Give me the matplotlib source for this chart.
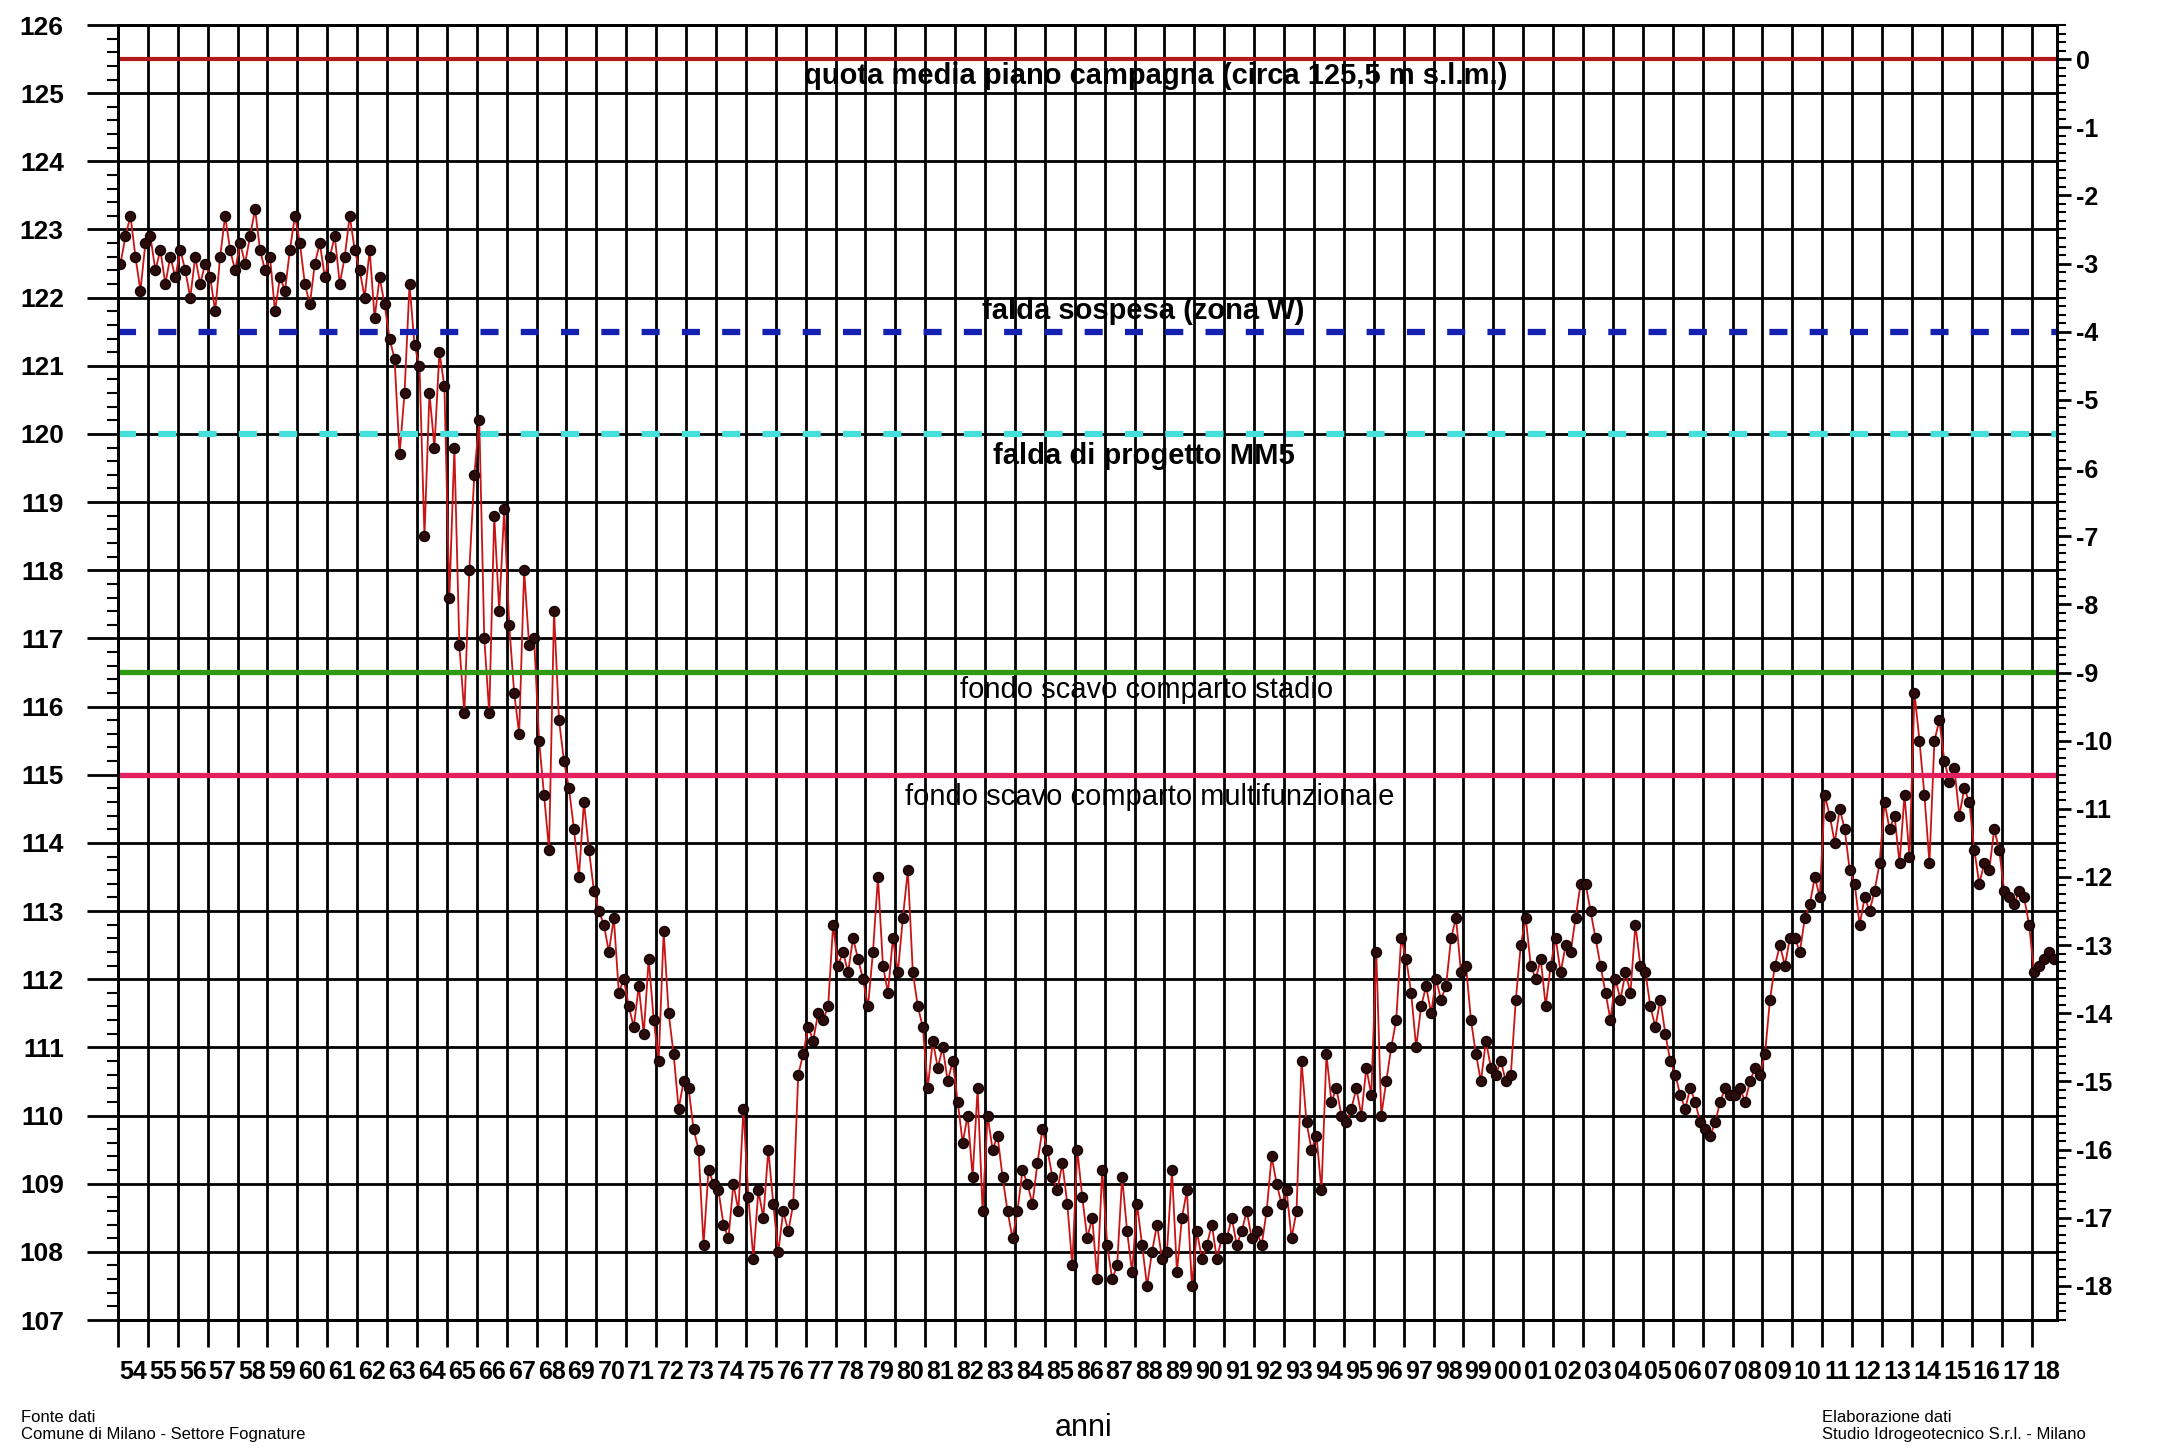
import matplotlib
matplotlib.use('Agg')
import matplotlib.pyplot as plt
from matplotlib.ticker import FixedLocator, MultipleLocator, NullFormatter

plt.rcParams['lines.scale_dashes'] = False
plt.rcParams['font.family'] = ['Liberation Sans Narrow', 'Liberation Sans', 'DejaVu Sans']

# anni di misura (asse x)
years = list(range(1954, 2019))
year_labels = [f'{y % 100:02d}' for y in years]

# quota di falda, 6 letture per anno (m s.l.m.)
levels = [
    [122.5, 122.9, 123.2, 122.6, 122.1, 122.8],  # 1954
    [122.9, 122.4, 122.7, 122.2, 122.6, 122.3],
    [122.7, 122.4, 122.0, 122.6, 122.2, 122.5],
    [122.3, 121.8, 122.6, 123.2, 122.7, 122.4],
    [122.8, 122.5, 122.9, 123.3, 122.7, 122.4],
    [122.6, 121.8, 122.3, 122.1, 122.7, 123.2],
    [122.8, 122.2, 121.9, 122.5, 122.8, 122.3],  # 1960
    [122.6, 122.9, 122.2, 122.6, 123.2, 122.7],
    [122.4, 122.0, 122.7, 121.7, 122.3, 121.9],
    [121.4, 121.1, 119.7, 120.6, 122.2, 121.3],
    [121.0, 118.5, 120.6, 119.8, 121.2, 120.7],
    [117.6, 119.8, 116.9, 115.9, 118.0, 119.4],
    [120.2, 117.0, 115.9, 118.8, 117.4, 118.9],
    [117.2, 116.2, 115.6, 118.0, 116.9, 117.0],
    [115.5, 114.7, 113.9, 117.4, 115.8, 115.2],
    [114.8, 114.2, 113.5, 114.6, 113.9, 113.3],
    [113.0, 112.8, 112.4, 112.9, 111.8, 112.0],  # 1970
    [111.6, 111.3, 111.9, 111.2, 112.3, 111.4],
    [110.8, 112.7, 111.5, 110.9, 110.1, 110.5],
    [110.4, 109.8, 109.5, 108.1, 109.2, 109.0],
    [108.9, 108.4, 108.2, 109.0, 108.6, 110.1],
    [108.8, 107.9, 108.9, 108.5, 109.5, 108.7],
    [108.0, 108.6, 108.3, 108.7, 110.6, 110.9],
    [111.3, 111.1, 111.5, 111.4, 111.6, 112.8],
    [112.2, 112.4, 112.1, 112.6, 112.3, 112.0],
    [111.6, 112.4, 113.5, 112.2, 111.8, 112.6],
    [112.1, 112.9, 113.6, 112.1, 111.6, 111.3],  # 1980
    [110.4, 111.1, 110.7, 111.0, 110.5, 110.8],
    [110.2, 109.6, 110.0, 109.1, 110.4, 108.6],
    [110.0, 109.5, 109.7, 109.1, 108.6, 108.2],
    [108.6, 109.2, 109.0, 108.7, 109.3, 109.8],
    [109.5, 109.1, 108.9, 109.3, 108.7, 107.8],
    [109.5, 108.8, 108.2, 108.5, 107.6, 109.2],
    [108.1, 107.6, 107.8, 109.1, 108.3, 107.7],
    [108.7, 108.1, 107.5, 108.0, 108.4, 107.9],
    [108.0, 109.2, 107.7, 108.5, 108.9, 107.5],
    [108.3, 107.9, 108.1, 108.4, 107.9, 108.2],  # 1990
    [108.2, 108.5, 108.1, 108.3, 108.6, 108.2],
    [108.3, 108.1, 108.6, 109.4, 109.0, 108.7],
    [108.9, 108.2, 108.6, 110.8, 109.9, 109.5],
    [109.7, 108.9, 110.9, 110.2, 110.4, 110.0],
    [109.9, 110.1, 110.4, 110.0, 110.7, 110.3],
    [112.4, 110.0, 110.5, 111.0, 111.4, 112.6],
    [112.3, 111.8, 111.0, 111.6, 111.9, 111.5],
    [112.0, 111.7, 111.9, 112.6, 112.9, 112.1],
    [112.2, 111.4, 110.9, 110.5, 111.1, 110.7],
    [110.6, 110.8, 110.5, 110.6, 111.7, 112.5],  # 2000
    [112.9, 112.2, 112.0, 112.3, 111.6, 112.2],
    [112.6, 112.1, 112.5, 112.4, 112.9, 113.4],
    [113.4, 113.0, 112.6, 112.2, 111.8, 111.4],
    [112.0, 111.7, 112.1, 111.8, 112.8, 112.2],
    [112.1, 111.6, 111.3, 111.7, 111.2, 110.8],
    [110.6, 110.3, 110.1, 110.4, 110.2, 109.9],
    [109.8, 109.7, 109.9, 110.2, 110.4, 110.3],
    [110.3, 110.4, 110.2, 110.5, 110.7, 110.6],
    [110.9, 111.7, 112.2, 112.5, 112.2, 112.6],
    [112.6, 112.4, 112.9, 113.1, 113.5, 113.2],  # 2010
    [114.7, 114.4, 114.0, 114.5, 114.2, 113.6],
    [113.4, 112.8, 113.2, 113.0, 113.3, 113.7],
    [114.6, 114.2, 114.4, 113.7, 114.7, 113.8],
    [116.2, 115.5, 114.7, 113.7, 115.5, 115.8],
    [115.2, 114.9, 115.1, 114.4, 114.8, 114.6],
    [113.9, 113.4, 113.7, 113.6, 114.2, 113.9],
    [113.3, 113.2, 113.1, 113.3, 113.2, 112.8],
    [112.1, 112.2, 112.3, 112.4, 112.3],          # 2018
]

# quote di riferimento
ref_levels = [125.5, 121.5, 120.0, 116.5, 115.0]
ref_labels = ['quota media piano campagna (circa 125,5 m s.l.m.)',
              'falda sospesa (zona W)',
              'falda di progetto MM5',
              'fondo scavo comparto stadio',
              'fondo scavo comparto multifunzionale']
ref_colors = ['#b01a1a', '#1420b0', '#45e0dc', '#2f9a12', '#e2205e']

# profondita' dal piano campagna (asse destro)
depth_ticks = list(range(0, -19, -1))
depth_labels = [str(d) for d in depth_ticks]

t, h = [], []
for yr, row in zip(years, levels):
    for k, v in enumerate(row):
        t.append(yr + (k + 0.5) / 6)
        h.append(v)

W, H = 2167, 1448
fig = plt.figure(figsize=(W / 100, H / 100), dpi=100)
left, right, top, bottom = 118, 2057, 25, 1320
ax = fig.add_axes([left / W, 1 - bottom / H, (right - left) / W, (bottom - top) / H])

ax.set_xlim(1954, 2018.85)
ax.set_ylim(107, 126)

ax.xaxis.set_major_locator(FixedLocator(years))
ax.xaxis.set_major_formatter(NullFormatter())
ax.xaxis.set_minor_locator(FixedLocator([y + 0.5 for y in years]))
ax.set_xticklabels(year_labels, minor=True, fontsize=18, fontweight='bold')
ax.tick_params(axis='x', which='major', length=19.5, width=2, direction='out')
ax.tick_params(axis='x', which='minor', length=0, pad=29)

ax.yaxis.set_major_locator(MultipleLocator(1))
ax.yaxis.set_minor_locator(MultipleLocator(0.2))
ax.tick_params(axis='y', which='major', length=22, width=2, pad=17, labelsize=19)
ax.tick_params(axis='y', which='minor', length=8, width=1.5)
for lbl in ax.get_yticklabels():
    lbl.set_fontweight('bold')

ax.grid(which='major', color='black', linewidth=2, zorder=1)
ax.set_axisbelow(True)
for sp in ax.spines.values():
    sp.set_linewidth(2)

ax.plot(t, h, color='#c81414', lw=1.3, marker='o', ms=7.2,
        mfc='#2a0c0c', mec='#140000', mew=1, zorder=3)

for lev, col in zip(ref_levels, ref_colors):
    if col in ('#1420b0', '#45e0dc'):
        ax.axhline(lev, color=col, lw=4.5, dashes=(13, 16), zorder=4)
    elif lev == 125.5:
        ax.axhline(lev, color=col, lw=3, zorder=4)
    else:
        ax.axhline(lev, color=col, lw=3.8, zorder=4)

narrow = dict(fontsize=21, fontweight='bold', ha='center', va='center', zorder=5)
plain = dict(fontsize=21, family=['Liberation Sans', 'DejaVu Sans'], ha='center', va='center', zorder=5)
ax.text(1988.7, 125.25, ref_labels[0], **narrow)
ax.text(1988.3, 121.8, ref_labels[1], **narrow)
ax.text(1988.3, 119.68, ref_labels[2], **narrow)
ax.text(1988.4, 116.24, ref_labels[3], **plain)
ax.text(1988.5, 114.68, ref_labels[4], **plain)

ax2 = ax.twinx()
ax2.set_ylim(107 - 125.5, 126 - 125.5)
ax2.yaxis.set_major_locator(FixedLocator(depth_ticks))
ax2.set_yticklabels(depth_labels, fontsize=18, fontweight='bold')
ax2.yaxis.set_minor_locator(MultipleLocator(0.125))
ax2.tick_params(axis='y', which='major', length=10, width=2, pad=4)
ax2.tick_params(axis='y', which='minor', length=6.5, width=1.5)
for sp in ax2.spines.values():
    sp.set_linewidth(2)

sans = ['Liberation Sans', 'DejaVu Sans']
fig.text(1084 / W, 1 - 1428 / H, 'anni', ha='center', va='center', fontsize=22, family=sans)
fig.text(21 / W, 1 - 1418 / H, 'Fonte dati', va='center', fontsize=12, family=sans)
fig.text(21 / W, 1 - 1435 / H, 'Comune di Milano - Settore Fognature', va='center', fontsize=12, family=sans)
fig.text(1822 / W, 1 - 1418 / H, 'Elaborazione dati', va='center', fontsize=12, family=sans)
fig.text(1822 / W, 1 - 1435 / H, 'Studio Idrogeotecnico S.r.l. - Milano', va='center', fontsize=12, family=sans)

fig.savefig('out.png', dpi=100)
